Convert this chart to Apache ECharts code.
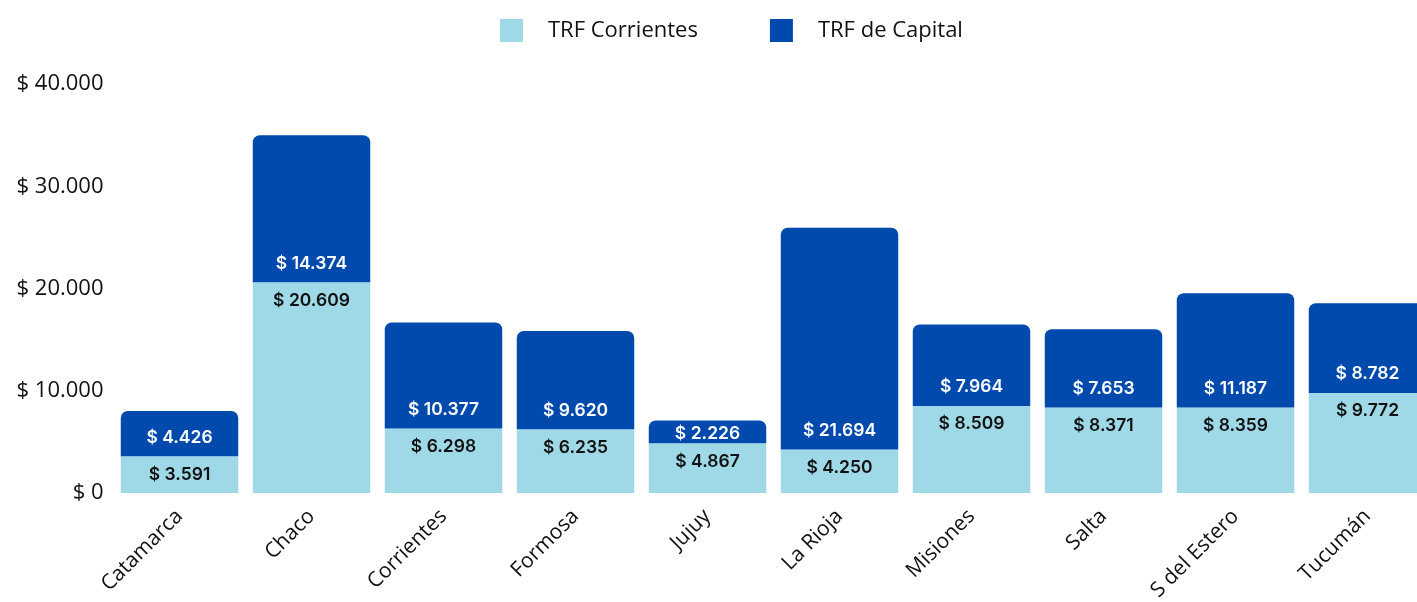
<!DOCTYPE html>
<html>
<head>
<meta charset="utf-8">
<script src="https://cdn.jsdelivr.net/npm/echarts@6/dist/echarts.min.js"></script>
<style>
  html, body { margin: 0; padding: 0; background: #fff; }
  #chart { width: 1417px; height: 602px; }
</style>
</head>
<body>
<div id="chart"></div>
<script>
var provincias = ['Catamarca', 'Chaco', 'Corrientes', 'Formosa', 'Jujuy', 'La Rioja', 'Misiones', 'Salta', 'S del Estero', 'Tucumán'];
var trfCorrientes = [3591, 20609, 6298, 6235, 4867, 4250, 8509, 8371, 8359, 9772];
var trfCapital = [4426, 14374, 10377, 9620, 2226, 21694, 7964, 7653, 11187, 8782];

// formato $ 12.345
function pesos(v) {
    return '$ ' + String(Math.round(v)).replace(/\B(?=(\d{3})+(?!\d))/g, '.');
}

// el segmento de Jujuy es muy bajo, la etiqueta va mas abajo
var capitalData = trfCapital.map(function (v, i) {
    if (i === 4) return {value: v, label: {distance: 1}};
    return v;
});

var myChart = echarts.init(document.getElementById('chart'));
var option = {
    animation: false,
    legend: {
        left: 495,
        top: 14,
        icon: 'rect',
        itemWidth: 23,
        itemHeight: 23,
        itemGap: 72,
        data: ['TRF Corrientes', 'TRF de Capital'],
        textStyle: {
            color: '#111',
            fontSize: 22,
            fontFamily: 'Open Sans',
            fontWeight: 500,
            padding: [0, 0, 0, 20]
        }
    },
    grid: {
        left: 113.5,
        right: -16.5,
        top: 84,
        bottom: 109,
        outerBoundsMode: 'none'
    },
    xAxis: {
        type: 'category',
        data: provincias,
        axisLine: {show: false},
        axisTick: {show: false},
        axisLabel: {
            rotate: 45,
            margin: 20,
            color: '#111',
            fontSize: 21,
            fontWeight: 500,
            fontFamily: 'Open Sans'
        }
    },
    yAxis: {
        type: 'value',
        min: 0,
        max: 40000,
        interval: 10000,
        splitLine: {show: false},
        axisLine: {show: false},
        axisTick: {show: false},
        axisLabel: {
            margin: 10,
            color: '#111',
            fontSize: 22,
            fontWeight: 500,
            fontFamily: 'Open Sans',
            formatter: pesos
        }
    },
    series: [
        {
            name: 'TRF Corrientes',
            type: 'bar',
            stack: 'trf',
            barCategoryGap: '11%',
            itemStyle: {color: '#9fd9e8'},
            label: {
                show: true,
                position: 'insideTop',
                distance: 9,
                color: '#111',
                fontSize: 17.5,
                fontWeight: 600,
                fontFamily: 'Inter',
                formatter: function (p) { return pesos(p.value); }
            },
            data: trfCorrientes
        },
        {
            name: 'TRF de Capital',
            type: 'bar',
            stack: 'trf',
            barCategoryGap: '11%',
            itemStyle: {color: '#004aad', borderRadius: [7, 7, 0, 0]},
            label: {
                show: true,
                position: 'insideBottom',
                distance: 10,
                color: '#fff',
                fontSize: 17.5,
                fontWeight: 600,
                fontFamily: 'Inter',
                formatter: function (p) { return pesos(p.value); }
            },
            data: capitalData
        }
    ]
};
myChart.setOption(option);
</script>
</body>
</html>
